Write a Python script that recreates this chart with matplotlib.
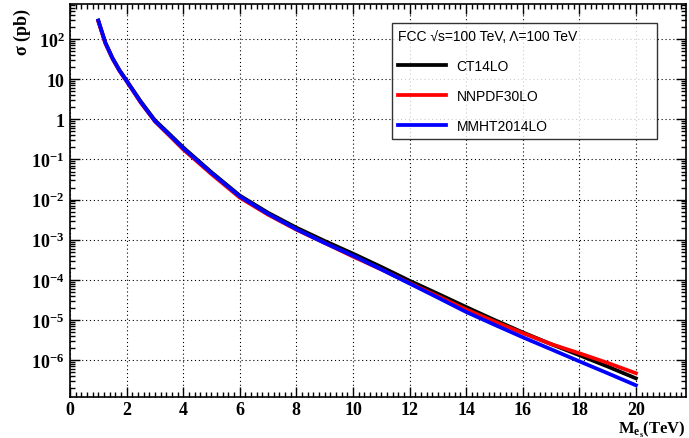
import math

import matplotlib
matplotlib.use('Agg')
import matplotlib.pyplot as plt
from matplotlib.ticker import FuncFormatter, LogLocator, MultipleLocator

plt.rcParams['mathtext.fontset'] = 'custom'
plt.rcParams['mathtext.bf'] = 'Liberation Serif:bold'
plt.rcParams['mathtext.rm'] = 'Liberation Serif:bold'
plt.rcParams['mathtext.it'] = 'Liberation Serif:bold'
plt.rcParams['mathtext.default'] = 'bf'

# mass of the excited lepton (TeV)
mass = [1, 1.25, 1.5, 1.75, 2, 2.5, 3, 3.5, 4, 5, 6, 7, 8, 9, 10,
        11, 12, 13, 14, 15, 16, 17, 18, 19, 20]

# cross sections in pb
ct14 = [2.9e2, 81, 34, 16.8, 9.3, 2.8, 0.95, 0.44, 0.20, 0.048, 0.0126, 4.7e-3, 2.0e-3, 9.3e-4, 4.5e-4,
        2.1e-4, 9.5e-5, 4.5e-5, 2.1e-5, 1.0e-5, 4.9e-6, 2.5e-6, 1.32e-6, 6.9e-7, 3.5e-7]
nnpdf = [2.75e2, 78, 32.5, 16.0, 8.9, 2.6, 0.89, 0.40, 0.178, 0.043, 0.0112, 4.2e-3, 1.78e-3, 8.3e-4, 3.8e-4,
         1.82e-4, 8.3e-5, 3.9e-5, 1.82e-5, 9.1e-6, 4.7e-6, 2.5e-6, 1.48e-6, 8.5e-7, 4.7e-7]
mmht = [2.9e2, 81, 33.4, 16.4, 9.1, 2.7, 0.91, 0.42, 0.19, 0.046, 0.012, 4.4e-3, 1.82e-3, 8.3e-4, 4.0e-4,
        1.82e-4, 8.1e-5, 3.6e-5, 1.58e-5, 7.6e-6, 3.7e-6, 1.86e-6, 9.3e-7, 4.7e-7, 2.35e-7]

serif = {'family': 'Liberation Serif', 'weight': 'bold'}

fig = plt.figure(figsize=(6.89, 4.39), dpi=100)
ax = fig.add_axes([70 / 689, 41 / 439, 616 / 689, 393 / 439])

ax.plot(mass, ct14, color='black', lw=2.7, label='CT14LO')
ax.plot(mass, nnpdf, color='red', lw=2.7, label='NNPDF30LO')
ax.plot(mass, mmht, color='blue', lw=2.7, label='MMHT2014LO')

ax.set_yscale('log')
ax.set_xlim(0, 21.77)
ax.set_ylim(1.2e-7, 750)

ax.xaxis.set_major_locator(MultipleLocator(2))
ax.xaxis.set_minor_locator(MultipleLocator(0.2))
ax.yaxis.set_major_locator(LogLocator(base=10, numticks=20))
ax.yaxis.set_minor_locator(LogLocator(base=10, subs=range(2, 10), numticks=20))


def ylab(v, pos):
    e = int(round(math.log10(v)))
    if e < -6 or e > 2:
        return ''
    if e == 0:
        return '1'
    if e == 1:
        return '10'
    return r'$\mathbf{10^{%d}}$' % e


ax.yaxis.set_major_formatter(FuncFormatter(ylab))
ax.tick_params(which='both', direction='in', top=True, right=True, width=1)
ax.tick_params(which='major', length=7, labelsize=13, pad=4)
ax.tick_params(axis='x', which='major', pad=3)
ax.tick_params(which='minor', length=3.5)
for lab in ax.get_xticklabels() + ax.get_yticklabels():
    lab.set_fontfamily('Liberation Serif')
    lab.set_fontweight('bold')

ax.grid(True, which='major', color='black', linestyle=(0, (1, 2.5)), lw=0.8)
for s in ax.spines.values():
    s.set_linewidth(1.2)

ax.set_ylabel(r'$\sigma$ (pb)', fontdict=serif, fontsize=13)
ax.yaxis.set_label_coords(-0.06, 0.99)
ax.yaxis.label.set_horizontalalignment('right')
ax.set_xlabel(r'M$_{\mathbf{e_s}}$(TeV)', fontdict=serif, fontsize=12)
ax.xaxis.set_label_coords(1.0, -0.056)
ax.xaxis.label.set_horizontalalignment('right')

leg = ax.legend(loc='upper left', bbox_to_anchor=(322 / 616, 1 - 19 / 393, 265 / 616, 0.0), mode='expand',
                frameon=True, fancybox=False, edgecolor='black',
                prop={'family': 'Liberation Sans', 'size': 10},
                title='FCC \u221as=100 TeV, \u039b=100 TeV',
                title_fontproperties={'family': 'Liberation Sans', 'size': 10},
                handlelength=3.45, labelspacing=1.15, borderpad=0.45, handletextpad=0.75, borderaxespad=0)
leg._legend_box.align = 'left'
leg.get_frame().set_linewidth(1.0)

fig.savefig('out.png', dpi=100)
